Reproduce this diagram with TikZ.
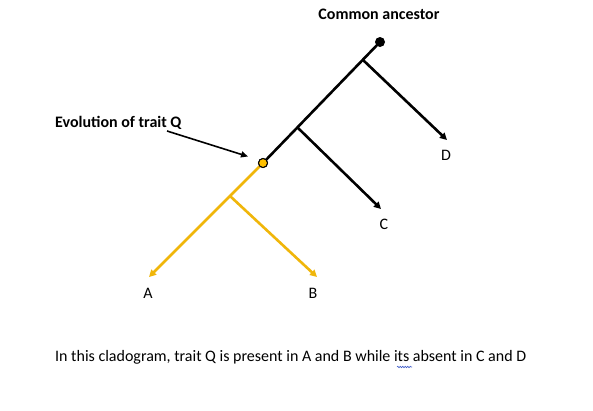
\documentclass[tikz,border=0pt]{standalone}
\usepackage{fontspec}
\setmainfont{Carlito}
\usetikzlibrary{arrows.meta,decorations.pathmorphing}
\definecolor{gold}{RGB}{240,182,10}
\definecolor{dotgold}{RGB}{255,192,0}
\definecolor{squig}{RGB}{60,90,200}
\tikzset{
  blk/.style={line width=2.6pt, black},
  gld/.style={line width=2.6pt, gold},
  tip/.style={-{Triangle[length=7pt,width=7pt]}},
  lbl/.style={font=\fontsize{16}{18}\selectfont, inner sep=0pt},
  bold/.style={font=\fontsize{16}{18}\selectfont\bfseries, inner sep=0pt},
}
\begin{document}
\begin{tikzpicture}[x=1pt,y=-1pt]
\useasboundingbox[fill=white] (0,0) rectangle (593,410);
% coordinates
\coordinate (bD) at (363,60);
\coordinate (bC) at (297,127);
\coordinate (bB) at (230,196);
\coordinate (tD) at (447,140);
\coordinate (tC) at (381,209);
\coordinate (tA) at (149,277);
\coordinate (tB) at (317,277);
% trunk
\node[circle, fill=black, inner sep=0pt, minimum size=10pt] (anc) at (380,42) {};
\node[circle, fill=dotgold, draw=black, line width=1pt, inner sep=0pt, minimum size=9pt] (qdot) at (263,163) {};
\draw[blk] (anc.center) -- (qdot.center);
\draw[blk,tip] (bD) -- (tD);
\draw[blk,tip] (bC) -- (tC);
\draw[gld,tip] (qdot.center) -- (tA);
\draw[gld,tip] (bB) -- (tB);
\node[circle, fill=dotgold, draw=black, line width=1pt, inner sep=0pt, minimum size=9pt] at (qdot) {};
% labels
\node[lbl] (lD) at (446,155) {D};
\node[lbl] (lC) at (384,224) {C};
\node[lbl] (lA) at (148,293) {A};
\node[lbl] (lB) at (313,293) {B};
\node[bold] (anclbl) at (379,14) {Common ancestor};
\node[bold, anchor=west] (evo) at (55,123) {Evolution of trait Q};
\coordinate (evs) at (167,131);
\draw[line width=1.6pt, -{Triangle[length=7pt,width=6pt]}] (evs) -- (248,156.5);
% caption
\node[lbl, anchor=west] (cap) at (55,357) {In this cladogram, trait Q is present in A and B while its absent in C and D};
\coordinate (sq1) at (397,367);
\coordinate (sq2) at (412,367);
\draw[squig, line width=0.6pt, decorate, decoration={snake, amplitude=0.7pt, segment length=2.5pt}] (sq1) -- (sq2);
\end{tikzpicture}
\end{document}
